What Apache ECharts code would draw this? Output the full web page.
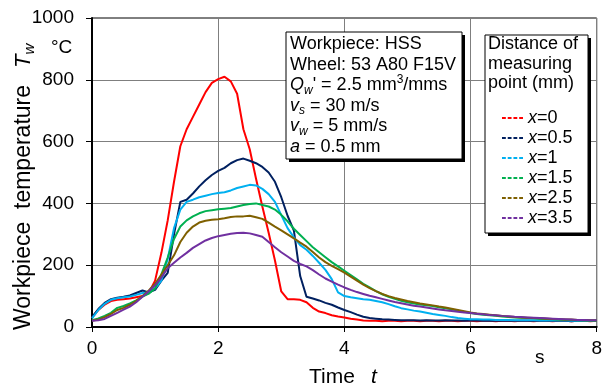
<!DOCTYPE html>
<html>
<head>
<meta charset="utf-8">
<script src="https://cdn.jsdelivr.net/npm/echarts@6/dist/echarts.min.js"></script>
<style>
  html, body { margin: 0; padding: 0; background: #fff; }
  #chart { width: 605px; height: 385px; }
</style>
</head>
<body>
<div id="chart"></div>
<script>
// time axis (s)
var time = [
  0.0,0.1,0.2,0.3,0.4,0.5,0.6,0.7,0.8,0.9,
  1.0,1.1,1.2,1.3,1.4,1.5,1.6,1.7,1.8,1.9,
  2.0,2.1,2.2,2.3,2.4,2.5,2.6,2.7,2.8,2.9,
  3.0,3.1,3.2,3.3,3.4,3.5,3.6,3.7,3.8,3.9,
  4.0,4.1,4.2,4.3,4.4,4.5,4.6,4.7,4.8,4.9,
  5.0,5.1,5.2,5.3,5.4,5.5,5.6,5.7,5.8,5.9,
  6.0,6.1,6.2,6.3,6.4,6.5,6.6,6.7,6.8,6.9,
  7.0,7.1,7.2,7.3,7.4,7.5,7.6,7.7,7.8,7.9,
  8.0
];

// workpiece temperature (°C) per measuring point
var x0 = [
  30,55,72,84,88,90,92,96,100,110,
  150,240,345,470,585,640,680,720,760,790,
  802,810,795,755,640,575,480,390,305,215,
  115,90,90,88,80,62,50,45,38,34,
  31,27,24,21,20,20,19,20,20,19,
  20,20,19,20,20,19,20,20,19,20,
  20,19,20,20,19,20,20,19,20,20,
  19,20,20,19,20,20,19,20,20,19,
  20
];
var x05 = [
  32,58,78,90,95,98,102,110,118,112,
  120,150,175,300,405,412,432,455,475,492,
  505,515,530,540,545,538,530,518,500,470,
  420,360,312,165,98,92,86,78,72,63,
  55,48,40,33,29,27,25,24,23,22,
  22,22,21,22,21,21,22,21,21,20,
  21,21,20,21,20,20,21,20,20,20,
  20,21,20,20,20,20,19,20,20,20,
  20
];
var x1 = [
  28,55,75,88,93,96,99,104,110,112,
  125,150,220,320,380,405,412,420,425,430,
  434,436,442,450,455,460,458,447,430,405,
  362,320,290,265,250,230,208,185,155,112,
  100,96,93,90,88,84,80,74,67,61,
  57,53,50,46,42,39,36,32,29,27,
  25,25,24,24,23,23,23,22,22,22,
  22,21,21,21,21,21,20,20,20,20,
  20
];
var x15 = [
  22,28,36,46,62,68,76,86,98,108,
  125,170,225,285,325,345,358,368,375,378,
  381,383,385,390,395,398,400,395,390,380,
  363,342,318,298,278,258,242,226,210,196,
  182,168,154,140,128,116,106,98,91,85,
  80,76,73,70,68,64,61,57,53,49,
  45,42,40,38,36,34,32,31,30,29,
  28,27,26,25,24,23,23,22,22,21,
  21
];
var x25 = [
  20,24,32,42,55,62,72,84,100,118,
  140,170,200,232,275,305,325,338,344,347,
  349,352,356,358,358,360,355,350,338,325,
  313,300,287,273,260,243,225,210,198,187,
  176,163,150,137,126,116,107,100,94,89,
  84,80,76,73,70,66,63,59,55,51,
  47,44,42,40,38,36,34,32,31,30,
  29,28,27,26,25,24,24,23,22,22,
  21
];
var x35 = [
  20,22,26,36,46,56,66,80,98,116,
  135,160,190,208,225,240,256,268,280,288,
  294,298,302,304,305,303,298,292,275,258,
  242,228,214,204,196,184,170,157,147,137,
  128,120,113,107,101,96,91,86,81,77,
  73,69,66,63,60,57,54,52,49,47,
  45,43,41,39,38,36,35,33,32,31,
  30,29,28,27,26,25,24,23,23,22,
  22
];

var seriesNames = ['x=0', 'x=0.5', 'x=1', 'x=1.5', 'x=2.5', 'x=3.5'];
var seriesData = [x0, x05, x1, x15, x25, x35];
var colors = ['#ff0000', '#002060', '#00b0f0', '#00b050', '#7f6000', '#7030a0'];

var FONT = '"Liberation Sans", Arial, sans-serif';
var ctx = document.createElement('canvas').getContext('2d');
function textWidth(s, size, italic) {
  ctx.font = (italic ? 'italic ' : '') + size + 'px ' + FONT;
  return ctx.measureText(s).width;
}

// a line of text made of pieces (for italic / sub / superscripts)
function richLine(x, y, size, parts) {
  var out = [];
  var cx = 0;
  parts.forEach(function (p) {
    var o = p[1] || {};
    var sz = o.sub || o.sup ? Math.round(size * 0.68) : size;
    var dy = o.sub ? size * 0.28 : (o.sup ? -size * 0.32 : 0);
    out.push({
      type: 'text',
      x: cx, y: dy, z: 20,
      style: {
        text: p[0], fill: '#000',
        font: (o.i ? 'italic ' : '') + sz + 'px ' + FONT,
        align: 'left', verticalAlign: 'middle'
      }
    });
    cx += textWidth(p[0], sz, o.i);
  });
  return { type: 'group', x: x, y: y, children: out };
}

var graphics = [];
// info box
graphics.push({ type: 'rect', shape: { x: 289, y: 35, width: 176, height: 127 }, style: { fill: '#000' }, z: 10 });
graphics.push({ type: 'rect', shape: { x: 286, y: 32, width: 176, height: 127 }, style: { fill: '#fff', stroke: '#000', lineWidth: 1 }, z: 11 });
// legend box
graphics.push({ type: 'rect', shape: { x: 488, y: 38, width: 103, height: 198 }, style: { fill: '#000' }, z: 10 });
graphics.push({ type: 'rect', shape: { x: 485, y: 35, width: 103, height: 198 }, style: { fill: '#fff', stroke: '#000', lineWidth: 1 }, z: 11 });

var infoLines = [
  [['Workpiece: HSS']],
  [['Wheel: 53 A80 F15V']],
  [['Q', { i: 1 }], ['w', { i: 1, sub: 1 }], ["' = 2.5 mm"], ['3', { sup: 1 }], ['/mms']],
  [['v', { i: 1 }], ['s', { i: 1, sub: 1 }], [' = 30 m/s']],
  [['v', { i: 1 }], ['w', { i: 1, sub: 1 }], [' = 5 mm/s']],
  [['a', { i: 1 }], [' = 0.5 mm']]
];
infoLines.forEach(function (l, i) {
  graphics.push(richLine(290, 44 + i * 20.6, 18, l));
});
['Distance of', 'measuring', 'point (mm)'].forEach(function (s, i) {
  graphics.push(richLine(488, 44 + i * 19.6, 18, [[s]]));
});

// y axis title (rotated)
var yTitle = richLine(24, 330, 23, [['Workpiece  temperature']]);
yTitle.rotation = Math.PI / 2;
graphics.push(yTitle);
var yTitle2 = richLine(24, 68, 22, [['T', { i: 1 }], ['w', { i: 1, sub: 1 }]]);
yTitle2.rotation = Math.PI / 2;
graphics.push(yTitle2);
graphics.push(richLine(51, 48, 19, [['°C']]));
// x axis title
graphics.push(richLine(309, 377, 21, [['Time']]));
graphics.push(richLine(371, 377, 21, [['t', { i: 1 }]]));
graphics.push(richLine(535, 358, 19, [['s']]));

var chart = echarts.init(document.getElementById('chart'), null, { renderer: 'canvas' });

var series = seriesNames.map(function (name, k) {
  return {
    name: name,
    type: 'line',
    showSymbol: false,
    animation: false,
    data: time.map(function (t, i) { return [t, seriesData[k][i]]; }),
    lineStyle: { width: 2, color: colors[k] },
    itemStyle: { color: colors[k] },
    z: 2 + k * 0.01
  };
});

chart.setOption({
  animation: false,
  textStyle: { fontFamily: FONT },
  grid: {
    left: 92, right: 5, top: 18, bottom: 58,
    show: true, borderColor: '#000', borderWidth: 1
  },
  xAxis: {
    type: 'value', min: 0, max: 8, interval: 2,
    axisLine: { lineStyle: { color: '#000', width: 2 } },
    axisTick: { show: true, inside: false, length: 5, lineStyle: { color: '#000' } },
    axisLabel: { color: '#000', fontSize: 19, margin: 12, fontFamily: FONT },
    splitLine: { lineStyle: { color: '#7f7f7f', width: 1 } }
  },
  yAxis: {
    type: 'value', min: 0, max: 1000, interval: 200,
    axisLine: { show: true, lineStyle: { color: '#000', width: 2 } },
    axisTick: { show: true, inside: false, length: 6, lineStyle: { color: '#000' } },
    axisLabel: { color: '#000', fontSize: 19, margin: 18, fontFamily: FONT,
      formatter: function (v) { return String(v); } },
    splitLine: { lineStyle: { color: '#7f7f7f', width: 1 } }
  },
  legend: {
    orient: 'vertical',
    left: 497, top: 104,
    itemWidth: 21, itemHeight: 3,
    itemGap: 2,
    icon: 'path://M0,0h4v2h-4zM6,0h4v2h-4zM12,0h4v2h-4zM18,0h4v2h-4z',
    z: 30,
    formatter: function (n) { return '{i|x}' + n.slice(1); },
    textStyle: {
      color: '#000', fontSize: 18, fontFamily: FONT,
      rich: { i: { fontStyle: 'italic', fontSize: 18, fontFamily: FONT } }
    },
    data: seriesNames
  },
  graphic: graphics,
  series: series
});
</script>
</body>
</html>
